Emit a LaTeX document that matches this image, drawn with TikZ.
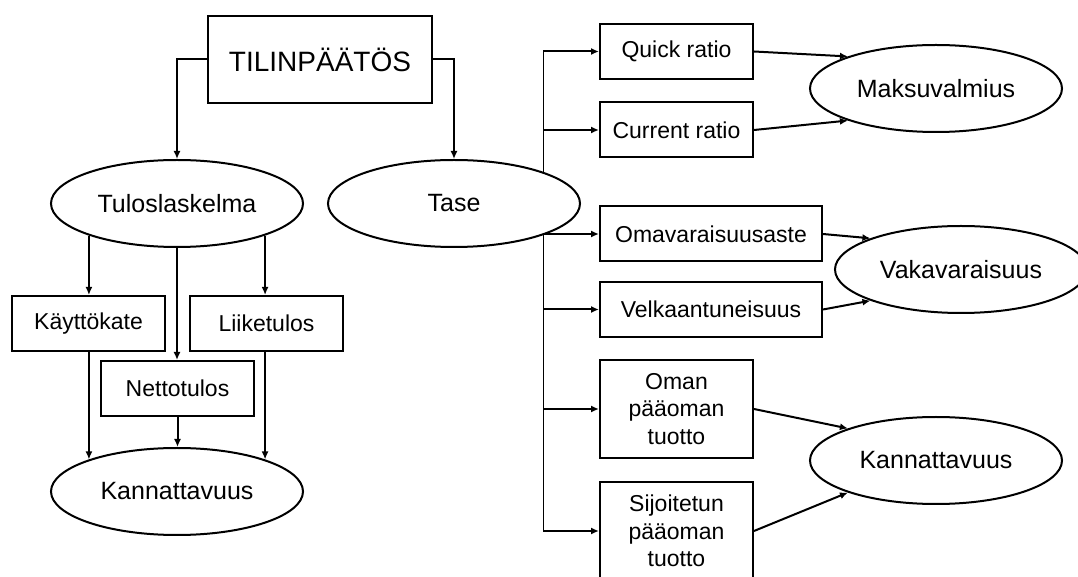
\documentclass[tikz,border=0pt]{standalone}
\usepackage{fontspec}
\setmainfont{Liberation Sans}
\usetikzlibrary{shapes.geometric,arrows.meta,backgrounds}

\begin{document}
\begin{tikzpicture}[
		x=0.5pt, y=-0.5pt,
		line width=1pt,
		>={Latex[length=4pt,width=3.5pt]},
		teksti/.style={font=\fontsize{11.5}{13.75}\selectfont, align=center},
		laatikko/.style={teksti, draw, fill=white, inner sep=0pt, minimum width=76.5pt, minimum height=27.5pt},
		levea/.style={laatikko, minimum width=111pt},
		korkea/.style={laatikko, minimum height=49pt},
		soikio/.style={ellipse, draw, fill=white, inner sep=0pt, minimum width=126pt, minimum height=43.5pt, font=\fontsize{12.5}{15}\selectfont},
	]
	\useasboundingbox (0,0) rectangle (1078,577);
	% vasen puoli
	\node[laatikko, minimum width=112pt, minimum height=43.5pt, font=\fontsize{14}{16}\selectfont] (tp) at (320,59.5) {TILINPÄÄTÖS};
	\node[soikio] (tulos) at (177,203.5) {Tuloslaskelma};
	\node[soikio] (tase) at (454,203.5) {Tase};
	\node[laatikko] (kate) at (88.5,323.5) {Käyttökate};
	\node[laatikko] (liike) at (266.5,323.5) {Liiketulos};
	\node[laatikko] (netto) at (177.5,388.5) {Nettotulos};
	\node[soikio] (kannL) at (177,491.5) {Kannattavuus};
	% oikea puoli
	\node[laatikko] (quick) at (676.5,51.5) {Quick ratio};
	\node[laatikko] (current) at (676.5,130) {Current ratio};
	\node[levea] (oma) at (711,234) {Omavaraisuusaste};
	\node[levea] (velka) at (711,309.5) {Velkaantuneisuus};
	\node[korkea] (opo) at (676.5,409) {Oman\\pääoman\\tuotto};
	\node[korkea] (sipo) at (676.5,531) {Sijoitetun\\pääoman\\tuotto};
	\node[soikio] (maksu) at (936,88.5) {Maksuvalmius};
	\node[soikio] (vaka) at (961,269.5) {Vakavaraisuus};
	\node[soikio] (kannR) at (936,460.5) {Kannattavuus};

	\draw[->] (tp.west) -| (tulos.north);
	\draw[->] (tp.east) -| (tase.north);
	\draw[->] (tulos.200) -- (tulos.200 |- kate.north);
	\draw[->] (tulos.south) -- (tulos.south |- netto.north);
	\draw[->] (tulos.340) -- (tulos.340 |- liike.north);
	\draw[->] (kannL.160 |- kate.south) -- (kannL.160);
	\draw[->] (netto.south) -- (netto.south |- kannL.north);
	\draw[->] (kannL.20 |- liike.south) -- (kannL.20);

	\coordinate (runko) at (543,0);
	\begin{scope}[on background layer]
		\draw (quick.west -| runko) -- (sipo.west -| runko);
	\end{scope}
	\foreach \n in {quick,current,oma,velka,opo,sipo}
		\draw[->] (\n.west -| runko) -- (\n.west);
	\draw[->] (quick.east) -- (maksu.160);
	\draw[->] (current.east) -- (maksu.200);
	\draw[->] (oma.east) -- (vaka.161);
	\draw[->] (velka.east) -- (vaka.199);
	\draw[->] (opo.east) -- (kannR.160);
	\draw[->] (sipo.east) -- (kannR.200);
\end{tikzpicture}
\end{document}
